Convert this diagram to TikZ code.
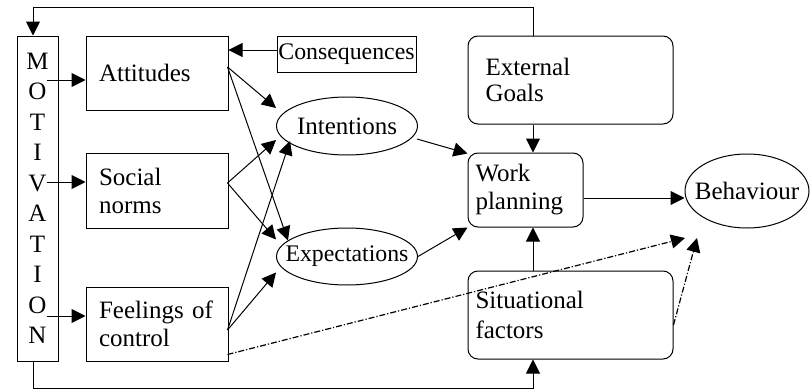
\documentclass[tikz,border=0pt]{standalone}
\usepackage{fontspec}
\setmainfont{Liberation Serif}
\usetikzlibrary{arrows.meta,shapes.geometric,calc}
\begin{document}
\begin{tikzpicture}[x=0.5pt,y=-0.5pt,
  font=\fontsize{12.5pt}{14pt}\selectfont,
  every node/.style={inner sep=0pt},
  sqbox/.style={draw,line width=0.5pt,rectangle,align=left},
  rbox/.style={draw,line width=0.5pt,rectangle,rounded corners=5pt,align=left},
  oval/.style={draw,line width=0.5pt,ellipse},
  arr/.style={line width=0.5pt,-{Triangle[length=7pt,width=7pt]}},
  dotarr/.style={line width=0.6pt,densely dash dot,-{Triangle[length=7pt,width=7pt]}}
]
\useasboundingbox (0,0) rectangle (810,391);

% left column
\node[sqbox,minimum width=20.5pt,minimum height=162.5pt,align=center,
  font=\fontsize{12.5pt}{15.25pt}\selectfont] (mot) at (37.5,198.5)
  {M\\O\\T\\I\\V\\A\\T\\I\\O\\N};
\node[sqbox,minimum height=37pt,text width=58pt,inner xsep=6.5pt] (att) at (157,73) {Attitudes};
\node[sqbox,minimum height=37.5pt,text width=58pt,inner xsep=6.5pt] (soc) at (157,190.5) {Social\\norms};
\node[sqbox,minimum height=37pt,text width=58pt,inner xsep=6.5pt] (feel) at (157,324) {Feelings of\\control};

% middle
\node[sqbox,minimum width=69.5pt,minimum height=18pt,align=center,
  font=\fontsize{11.9pt}{14pt}\selectfont] (cons) at (346.5,54) {Consequences};
\node[oval,minimum width=70.5pt,minimum height=29pt] (int) at (347,126) {\makebox[0pt]{Intentions}};
\node[oval,minimum width=70.5pt,minimum height=28.5pt] (exp) at (347,256.5)
  {\makebox[0pt]{\fontsize{11.9pt}{14pt}\selectfont Expectations}};

% right
\node[rbox,minimum height=44pt,text width=85pt,inner xsep=8.75pt,
  font=\fontsize{12.5pt}{12.8pt}\selectfont] (ext) at (570.5,80) {External\\Goals};
\node[rbox,minimum height=37pt,text width=50pt,inner xsep=3.75pt] (work) at (525.5,190) {Work\\planning};
\node[rbox,minimum height=44pt,text width=95pt,inner xsep=3.75pt,
  font=\fontsize{12.5pt}{15pt}\selectfont] (sit) at (570.5,315) {Situational\\factors};
\node[oval,minimum width=62pt,minimum height=37pt] (beh) at (747,191) {\makebox[0pt]{Behaviour}};

% helper coordinates
\coordinate (wx) at ($(work.north)+(7.5,0)$);
\coordinate (mx) at ($(mot.north)+(-4.5,0)$);
\coordinate (ty) at (0,7);
\coordinate (by) at (0,388);

% feedback loops
\draw[arr] (wx |- ext.north) -- (wx |- ty) -- (mx |- ty) -- (mx);
\draw[arr] (mx |- mot.south) -- (mx |- by) -- (wx |- by) -- (wx |- sit.south);

% motivation arrows
\draw[arr] ($(att.west)+(-39,7)$) -- ($(att.west)+(0,7)$);
\draw[arr] ($(soc.west)+(-39,-8.5)$) -- ($(soc.west)+(0,-8.5)$);
\draw[arr] ($(feel.west)+(-39,-8)$) -- ($(feel.west)+(0,-8)$);

% consequences
\draw[arr] ($(cons.west)+(0,-4)$) -- ($(att.east)+(0,-23)$);

% sources to intentions / expectations
\coordinate (sa) at ($(att.east)+(-1,-6)$);
\coordinate (ss) at ($(soc.east)+(-1,-7.5)$);
\coordinate (sf) at ($(feel.east)+(-1,6)$);
\draw[arr] (sa) -- ($(int.center)+(-71,-18)$);
\draw[arr] (sa) -- ($(exp.center)+(-59,-16)$);
\draw[arr] (ss) -- ($(int.center)+(-71,14)$);
\draw[arr] (ss) -- ($(exp.center)+(-71,-17)$);
\draw[arr] (sf) -- ($(int.center)+(-57,15)$);
\draw[arr] (sf) -- ($(exp.center)+(-71,16)$);

% to work planning
\draw[arr] ($(int.center)+(70,13)$) -- ($(work.north west)+(0,1)$);
\draw[arr] (exp.east) -- (work.south west);
\draw[arr] (wx |- ext.south) -- (wx);
\draw[arr] (wx |- sit.north) -- (wx |- work.south);

% to behaviour
\coordinate (wb) at ($(work.east)+(0,8)$);
\draw[arr] (wb) -- (wb -| beh.west);
\draw[dotarr] ($(feel.south east)+(-1,-7)$) -- ($(beh.center)+(-62,47)$);
\draw[dotarr] ($(sit.east)+(0,10)$) -- ($(beh.center)+(-50,47)$);
\end{tikzpicture}
\end{document}
